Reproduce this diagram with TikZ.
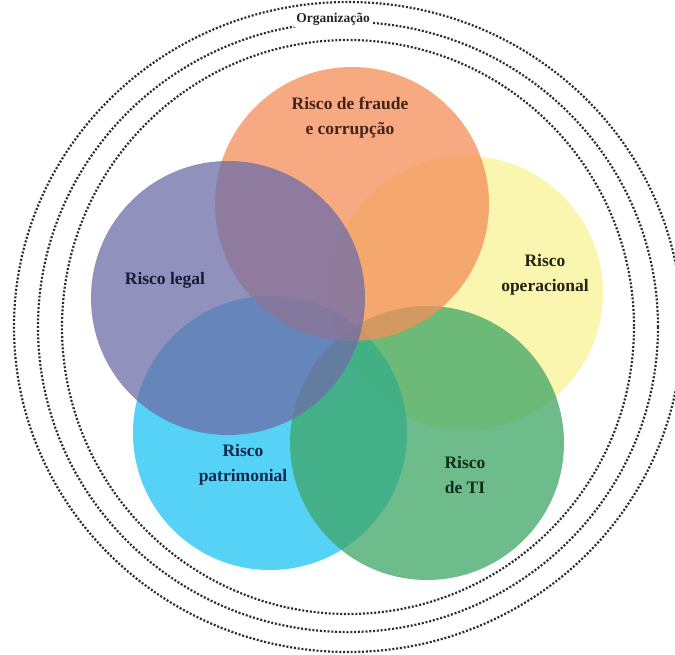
\documentclass[tikz,border=0pt]{standalone}
\usepackage{fontspec}
\setmainfont{Liberation Serif}
\definecolor{cOrange}{RGB}{244,142,88}
\definecolor{cPurple}{RGB}{108,108,168}
\definecolor{cYellow}{RGB}{248,242,148}
\definecolor{cCyan}{RGB}{28,195,242}
\definecolor{cGreen}{RGB}{62,166,102}
\definecolor{dotgray}{RGB}{45,45,45}
\definecolor{tBrown}{RGB}{70,35,25}
\definecolor{tNavy}{RGB}{25,25,55}
\definecolor{tOlive}{RGB}{35,35,20}
\definecolor{tBlue}{RGB}{15,40,75}
\definecolor{tGreen}{RGB}{15,45,25}
\begin{document}
\begin{tikzpicture}[x=1pt,y=-1pt,
  dotring/.style={draw=dotgray,line width=2.2pt,dash pattern=on 2pt off 1.8pt},
  riskcircle/.style={circle,minimum size=274pt,inner sep=0pt,draw=none,fill opacity=0.75},
  risklabel/.style={font=\fontsize{17.5}{25}\selectfont\bfseries,align=center}]
\useasboundingbox (0,0) rectangle (675,655);
% organisation rings
\coordinate (org) at (348,327);
\draw[dotring] (org) ellipse[x radius=286,y radius=287];
\draw[dotring] (org) ellipse[x radius=310,y radius=305];
\draw[dotring] (org) ellipse[x radius=334,y radius=325];
\node[fill=white,inner sep=2pt,font=\fontsize{13.5}{15}\selectfont\bfseries,text=black!85] (orglabel) at (333,19) {Organização};
% risk circles
\node[riskcircle,fill=cYellow] (op) at (466,293) {};
\node[riskcircle,fill=cCyan] (pat) at (270,433) {};
\node[riskcircle,fill=cGreen] (ti) at (427,443) {};
\node[riskcircle,fill=cOrange] (fr) at (352,204) {};
\node[riskcircle,fill=cPurple] (leg) at (228,298) {};
% labels
\node[risklabel,text=tBrown] (lfr) at (350,118) {Risco de fraude\\e corrupção};
\node[risklabel,text=tNavy] (lleg) at (165,280) {Risco legal};
\node[risklabel,text=tOlive] (lop) at (545,275) {Risco\\operacional};
\node[risklabel,text=tBlue] (lpat) at (243,465) {Risco\\patrimonial};
\node[risklabel,text=tGreen] (lti) at (465,475) {Risco\\de TI};
\end{tikzpicture}
\end{document}
